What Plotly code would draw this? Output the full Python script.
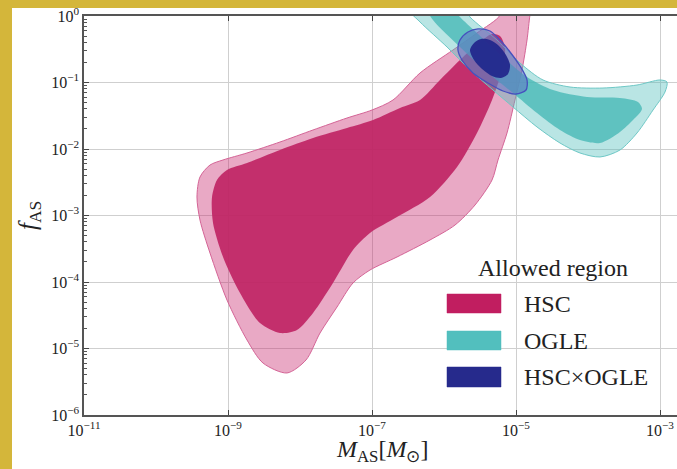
import numpy as np
import plotly.graph_objects as go

# ---- data: contour outlines, as log10(M_AS) and log10(f_AS) ----
hsc_outer_logm = [-5.250, -5.222, -5.542, -5.875, -6.333, -6.708, -7.000, -7.347, -7.819, -8.278,
                  -8.736, -9.069, -9.250, -9.389, -9.431, -9.389, -9.250, -9.014, -8.736, -8.514,
                  -8.181, -7.917, -7.722, -7.486, -7.264, -7.028, -6.653, -6.194, -5.847, -5.569,
                  -5.333, -5.250, -5.125, -5.014, -4.917, -4.847, -4.806, -4.778, -5.250]
hsc_outer_logf = [0.165, 0.015, -0.256, -0.511, -0.857, -1.263, -1.414, -1.534, -1.714, -1.895,
                  -2.060, -2.165, -2.241, -2.421, -2.722, -3.068, -3.564, -4.271, -4.872, -5.218,
                  -5.368, -5.173, -4.767, -4.376, -4.015, -3.820, -3.624, -3.368, -3.143, -2.842,
                  -2.466, -2.165, -1.759, -1.263, -0.812, -0.361, 0.015, 0.165, 0.165]

hsc_inner_logm = [-5.222, -5.333, -5.500, -5.778, -6.056, -6.333, -6.611, -6.986, -7.347, -7.819,
                  -8.278, -8.736, -9.014, -9.153, -9.222, -9.208, -9.069, -8.833, -8.556, -8.278,
                  -8.042, -7.819, -7.542, -7.264, -7.028, -6.653, -6.194, -5.819, -5.542, -5.333,
                  -5.181, -5.153, -5.222]
hsc_inner_logf = [-0.301, -0.271, -0.391, -0.662, -0.962, -1.263, -1.383, -1.564, -1.684, -1.835,
                  -2.015, -2.211, -2.316, -2.466, -2.722, -3.113, -3.624, -4.165, -4.617, -4.767,
                  -4.722, -4.466, -4.015, -3.519, -3.263, -3.023, -2.722, -2.271, -1.759, -1.263,
                  -0.767, -0.481, -0.301]

ogle_outer_logm = [-6.542, -6.333, -5.958, -5.639, -5.319, -5.042, -4.708, -4.389, -4.111, -3.833,
                   -3.556, -3.319, -3.097, -2.931, -2.903, -3.000, -3.319, -3.792, -4.250, -4.625,
                   -4.944, -5.264, -5.639, -5.750, -6.542]
ogle_outer_logf = [0.165, -0.090, -0.466, -0.812, -1.113, -1.368, -1.669, -1.910, -2.060, -2.120,
                   -2.015, -1.759, -1.414, -1.143, -0.992, -0.962, -1.038, -1.083, -1.068, -0.962,
                   -0.707, -0.361, -0.015, 0.165, 0.165]

ogle_inner_logm = [-5.917, -5.806, -5.542, -5.181, -4.847, -4.486, -4.014, -3.556, -3.306, -3.250,
                   -3.375, -3.556, -3.833, -4.111, -4.389, -4.708, -5.042, -5.403, -5.778, -6.153,
                   -6.264, -5.917]
ogle_inner_logf = [0.165, 0.015, -0.256, -0.617, -0.917, -1.113, -1.218, -1.233, -1.293, -1.398,
                   -1.564, -1.744, -1.910, -1.865, -1.714, -1.459, -1.158, -0.842, -0.466, -0.060,
                   0.165, 0.165]

both_outer_logm = [-5.778, -5.667, -5.528, -5.361, -5.222, -5.083, -4.944, -4.847, -4.861, -5.000,
                   -5.181, -5.389, -5.597, -5.750, -5.806, -5.778]
both_outer_logf = [-0.361, -0.241, -0.195, -0.226, -0.361, -0.541, -0.752, -0.962, -1.113, -1.173,
                   -1.128, -1.008, -0.857, -0.662, -0.511, -0.361]

both_inner_logm = [-5.639, -5.583, -5.486, -5.361, -5.236, -5.139, -5.083, -5.111, -5.208, -5.333,
                   -5.472, -5.583, -5.639]
both_inner_logf = [-0.511, -0.406, -0.346, -0.361, -0.451, -0.586, -0.737, -0.872, -0.932, -0.902,
                   -0.797, -0.662, -0.511]

# ---- ticks ----
x_tick_exp = [-11, -9, -7, -5, -3]
x_tick_text = ["10<sup>−11</sup>", "10<sup>−9</sup>", "10<sup>−7</sup>", "10<sup>−5</sup>", "10<sup>−3</sup>"]
y_tick_exp = [-6, -5, -4, -3, -2, -1, 0]
y_tick_text = ["10<sup>−6</sup>", "10<sup>−5</sup>", "10<sup>−4</sup>", "10<sup>−3</sup>",
               "10<sup>−2</sup>", "10<sup>−1</sup>", "10<sup>0</sup>"]

legend_title = "Allowed region"
legend_names = ["HSC", "OGLE", "HSC×OGLE"]
legend_colors = ["rgb(193,30,96)", "rgb(82,191,190)", "rgb(38,42,140)"]

SERIF = "Liberation Serif, Times New Roman, serif"
GOLD = "rgb(212,182,58)"


def p(v):
    return np.power(10.0, np.asarray(v))


fig = go.Figure()

regions = [
    (hsc_outer_logm, hsc_outer_logf, "rgba(200,40,110,0.40)", "rgb(212,100,150)", 1.0),
    (hsc_inner_logm, hsc_inner_logf, "rgba(191,37,100,0.92)", "rgba(191,37,100,0.0)", 0),
    (ogle_outer_logm, ogle_outer_logf, "rgba(80,190,188,0.40)", "rgb(110,200,198)", 1.0),
    (ogle_inner_logm, ogle_inner_logf, "rgba(72,185,183,0.80)", "rgba(72,185,183,0.0)", 0),
    (both_outer_logm, both_outer_logf, "rgba(95,100,200,0.45)", "rgb(70,80,190)", 1.3),
    (both_inner_logm, both_inner_logf, "rgba(35,40,140,0.95)", "rgba(35,40,140,0.0)", 0),
]
for lm, lf, fc, lc, lw in regions:
    fig.add_trace(go.Scatter(
        x=p(lm), y=p(lf), mode="lines", fill="toself", fillcolor=fc,
        line=dict(color=lc, width=lw, shape="spline", smoothing=0.8),
        showlegend=False, hoverinfo="skip"))

# ---- layout geometry ----
W, H = 677, 469
ML, MR, MT, MB = 84, 0, 16, 54
PW, PH = W - ML - MR, H - MT - MB


def px_x(x):
    return (x - ML) / PW


def px_y(y):
    return (H - MB - y) / PH


shapes = []
annotations = []

# legend (drawn manually: swatches + text)
annotations.append(dict(x=px_x(553), y=px_y(268), xref="paper", yref="paper", text=legend_title,
                        showarrow=False, xanchor="center", yanchor="middle",
                        font=dict(family=SERIF, size=24, color="#222")))
rows = [(294, 313), (331, 350), (367, 387)]
for (y0, y1), name, col in zip(rows, legend_names, legend_colors):
    shapes.append(dict(type="rect", xref="paper", yref="paper",
                       x0=px_x(447), x1=px_x(501), y0=px_y(y1), y1=px_y(y0),
                       fillcolor=col, line=dict(color=col, width=0.5), layer="above"))
    annotations.append(dict(x=px_x(522), y=px_y((y0 + y1) / 2), xref="paper", yref="paper",
                            text=name, showarrow=False, xanchor="left", yanchor="middle",
                            font=dict(family=SERIF, size=24, color="#222")))

# axis titles
annotations.append(dict(x=px_x(382), y=px_y(451), xref="paper", yref="paper",
                        text="<i>M</i><sub>AS</sub>[<i>M</i><sub>⊙</sub>]", showarrow=False,
                        xanchor="center", yanchor="middle",
                        font=dict(family=SERIF, size=24, color="#222")))
annotations.append(dict(x=px_x(29), y=px_y(216), xref="paper", yref="paper",
                        text="<i>f</i><sub>AS</sub>", showarrow=False, textangle=-90,
                        xanchor="center", yanchor="middle",
                        font=dict(family=SERIF, size=25, color="#222")))

# gold frame strips (left and top)
shapes.append(dict(type="rect", xref="paper", yref="paper", x0=px_x(-2), x1=px_x(12),
                   y0=px_y(H + 2), y1=px_y(-2), fillcolor=GOLD, line=dict(width=0), layer="above"))
shapes.append(dict(type="rect", xref="paper", yref="paper", x0=px_x(-2), x1=px_x(W + 2),
                   y0=px_y(8), y1=px_y(-2), fillcolor=GOLD, line=dict(width=0), layer="above"))

minor_y = [k * 10.0 ** e for e in range(-6, 0) for k in range(2, 10)]

fig.update_layout(
    width=W, height=H, autosize=False,
    margin=dict(l=ML, r=MR, t=MT, b=MB, pad=0),
    paper_bgcolor="white", plot_bgcolor="white",
    font=dict(family=SERIF, size=16, color="#222"),
    showlegend=False,
    shapes=shapes, annotations=annotations,
    xaxis=dict(type="log", range=[-11, -11 + PW / 72.0],
               tickmode="array", tickvals=p(x_tick_exp), ticktext=x_tick_text,
               ticks="inside", ticklen=5, tickwidth=1, tickcolor="#444",
               showline=True, linecolor="#555", linewidth=1.5, mirror="ticks",
               showgrid=True, gridcolor="#cfcfcf", gridwidth=1, zeroline=False,
               tickfont=dict(family=SERIF, size=16, color="#222")),
    yaxis=dict(type="log", range=[-6, 0],
               tickmode="array", tickvals=p(y_tick_exp), ticktext=y_tick_text,
               ticks="inside", ticklen=5, tickwidth=1, tickcolor="#444",
               showline=True, linecolor="#555", linewidth=1.5, mirror=False,
               showgrid=True, gridcolor="#cfcfcf", gridwidth=1, zeroline=False,
               tickfont=dict(family=SERIF, size=16, color="#222"),
               minor=dict(tickmode="array", tickvals=minor_y, ticks="inside", ticklen=3,
                          tickcolor="#555", tickwidth=1, showgrid=False)),
)

fig.write_html("out.html", config={"displayModeBar": False},
               post_script="document.body.style.margin='0px';document.body.style.overflow='hidden';")
